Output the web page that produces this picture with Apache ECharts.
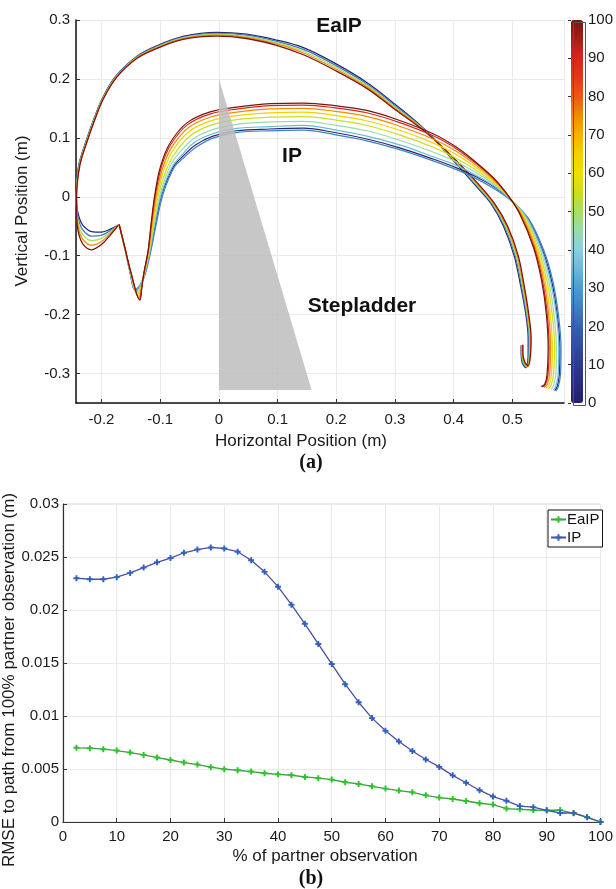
<!DOCTYPE html>
<html><head><meta charset="utf-8">
<script src="https://cdn.jsdelivr.net/npm/echarts@6/dist/echarts.min.js"></script>
<style>html,body{margin:0;padding:0;background:#fff}#c{width:616px;height:889px}</style>
</head><body><div id="c"></div>
<script>
// ---------- Panel (a): trajectories (x, y in metres), one array per observation percentage ----------
const EAIP_P2_5 = [[-0.170,-0.047],[-0.185,-0.055],[-0.200,-0.060],[-0.217,-0.059],[-0.232,-0.048],[-0.239,-0.032],[-0.2425,-0.012],[-0.243,0.010],[-0.239,0.053],[-0.227,0.0925],[-0.213,0.132],[-0.199,0.166],[-0.177,0.203],[-0.140,0.238],[-0.106,0.256],[-0.061,0.272],[-0.004,0.279],[0.047,0.276],[0.098,0.266],[0.144,0.253],[0.195,0.228],[0.252,0.194],[0.300,0.157],[0.352,0.113],[0.400,0.061],[0.440,0.016],[0.464,-0.012],[0.485,-0.050],[0.503,-0.100],[0.514,-0.150],[0.523,-0.200],[0.527,-0.240],[0.527,-0.268],[0.523,-0.290],[0.517,-0.282],[0.515,-0.266],[0.515,-0.252]];
const EAIP_P25 = [[-0.170,-0.047],[-0.185,-0.0575],[-0.200,-0.0653],[-0.217,-0.0668],[-0.232,-0.056],[-0.2393,-0.0385],[-0.2425,-0.0165],[-0.2429,0.0075],[-0.2385,0.053],[-0.2265,0.0925],[-0.2125,0.132],[-0.1985,0.166],[-0.1763,0.203],[-0.140,0.2371],[-0.106,0.2549],[-0.061,0.2708],[-0.004,0.2774],[0.047,0.2742],[0.098,0.2638],[0.144,0.250],[0.195,0.225],[0.252,0.1915],[0.300,0.1548],[0.352,0.1123],[0.400,0.0623],[0.440,0.018],[0.4655,-0.012],[0.4868,-0.050],[0.5048,-0.100],[0.5155,-0.150],[0.5243,-0.200],[0.5283,-0.240],[0.528,-0.268],[0.524,-0.2893],[0.518,-0.2815],[0.5158,-0.2658],[0.5158,-0.2518]];
const EAIP_P50 = [[-0.170,-0.047],[-0.185,-0.060],[-0.200,-0.0705],[-0.217,-0.0745],[-0.232,-0.064],[-0.2395,-0.045],[-0.2425,-0.021],[-0.2428,0.005],[-0.238,0.053],[-0.226,0.0925],[-0.212,0.132],[-0.198,0.166],[-0.1755,0.203],[-0.140,0.2363],[-0.106,0.2538],[-0.061,0.2695],[-0.004,0.2758],[0.047,0.2723],[0.098,0.2615],[0.144,0.247],[0.195,0.222],[0.252,0.189],[0.300,0.1525],[0.352,0.1115],[0.400,0.0635],[0.440,0.020],[0.467,-0.012],[0.4885,-0.050],[0.5065,-0.100],[0.517,-0.150],[0.5255,-0.200],[0.5295,-0.240],[0.529,-0.268],[0.525,-0.2885],[0.519,-0.281],[0.5165,-0.2655],[0.5165,-0.2515]];
const EAIP_P75 = [[-0.170,-0.047],[-0.185,-0.0625],[-0.200,-0.0758],[-0.217,-0.0823],[-0.232,-0.072],[-0.2398,-0.0515],[-0.2425,-0.0255],[-0.2426,0.0025],[-0.2375,0.053],[-0.2255,0.0925],[-0.2115,0.132],[-0.1975,0.166],[-0.1748,0.203],[-0.140,0.2354],[-0.106,0.2527],[-0.061,0.2683],[-0.004,0.2742],[0.047,0.2705],[0.098,0.2593],[0.144,0.244],[0.195,0.219],[0.252,0.1865],[0.300,0.1503],[0.352,0.1108],[0.400,0.0648],[0.440,0.022],[0.4685,-0.012],[0.4903,-0.050],[0.5083,-0.100],[0.5185,-0.150],[0.5268,-0.200],[0.5308,-0.240],[0.530,-0.268],[0.526,-0.2878],[0.520,-0.2805],[0.5173,-0.2653],[0.5173,-0.2513]];
const EAIP_P100 = [[-0.170,-0.047],[-0.185,-0.065],[-0.200,-0.081],[-0.217,-0.090],[-0.232,-0.080],[-0.240,-0.058],[-0.2425,-0.030],[-0.2425,0.000],[-0.237,0.053],[-0.225,0.0925],[-0.211,0.132],[-0.197,0.166],[-0.174,0.203],[-0.140,0.2345],[-0.106,0.2516],[-0.061,0.267],[-0.004,0.2726],[0.047,0.2686],[0.098,0.257],[0.144,0.241],[0.195,0.216],[0.252,0.184],[0.300,0.148],[0.352,0.110],[0.400,0.066],[0.440,0.024],[0.470,-0.012],[0.492,-0.050],[0.510,-0.100],[0.520,-0.150],[0.528,-0.200],[0.532,-0.240],[0.531,-0.268],[0.527,-0.287],[0.521,-0.280],[0.518,-0.265],[0.518,-0.251]];

const IP_P2_5 = [[-0.170,-0.047],[-0.161,-0.085],[-0.152,-0.125],[-0.143,-0.159],[-0.134,-0.150],[-0.126,-0.130],[-0.1165,-0.090],[-0.108,-0.045],[-0.097,0.005],[-0.078,0.050],[-0.062,0.068],[-0.040,0.088],[-0.010,0.103],[0.030,0.112],[0.087,0.115],[0.144,0.1164],[0.195,0.1095],[0.252,0.098],[0.308,0.083],[0.365,0.064],[0.405,0.049],[0.440,0.033],[0.470,0.016],[0.497,-0.005],[0.527,-0.038],[0.552,-0.092],[0.567,-0.143],[0.5765,-0.200],[0.581,-0.257],[0.580,-0.302],[0.5765,-0.322],[0.572,-0.329]];
const IP_P25 = [[-0.170,-0.047],[-0.161,-0.085],[-0.152,-0.125],[-0.143,-0.158],[-0.134,-0.149],[-0.125,-0.130],[-0.1155,-0.090],[-0.1065,-0.045],[-0.095,0.005],[-0.076,0.050],[-0.060,0.066],[-0.038,0.085],[-0.009,0.100],[0.030,0.109],[0.087,0.112],[0.144,0.113],[0.195,0.106],[0.252,0.095],[0.308,0.080],[0.365,0.061],[0.405,0.046],[0.440,0.030],[0.470,0.013],[0.498,-0.007],[0.529,-0.039],[0.554,-0.092],[0.569,-0.143],[0.5785,-0.200],[0.583,-0.257],[0.582,-0.302],[0.578,-0.323],[0.574,-0.330]];
const IP_P35 = [[-0.170,-0.047],[-0.161,-0.085],[-0.152,-0.125],[-0.142,-0.161],[-0.134,-0.150],[-0.126,-0.130],[-0.117,-0.090],[-0.109,-0.045],[-0.098,0.005],[-0.080,0.050],[-0.064,0.070],[-0.042,0.092],[-0.011,0.107],[0.030,0.116],[0.087,0.119],[0.144,0.121],[0.195,0.114],[0.252,0.103],[0.308,0.088],[0.365,0.068],[0.405,0.053],[0.440,0.0354],[0.470,0.0174],[0.4965,-0.0042],[0.5255,-0.037],[0.5504,-0.0914],[0.565,-0.143],[0.575,-0.200],[0.579,-0.257],[0.578,-0.302],[0.574,-0.322],[0.570,-0.328]];
const IP_P45 = [[-0.170,-0.047],[-0.161,-0.086],[-0.151,-0.126],[-0.141,-0.164],[-0.133,-0.151],[-0.127,-0.130],[-0.118,-0.090],[-0.110,-0.045],[-0.100,0.005],[-0.084,0.050],[-0.068,0.074],[-0.044,0.098],[-0.011,0.114],[0.030,0.123],[0.087,0.127],[0.144,0.128],[0.195,0.122],[0.252,0.112],[0.308,0.096],[0.365,0.076],[0.405,0.059],[0.440,0.0397],[0.470,0.0199],[0.4956,-0.0028],[0.5228,-0.0352],[0.5475,-0.0903],[0.562,-0.143],[0.571,-0.200],[0.575,-0.257],[0.574,-0.302],[0.570,-0.321],[0.566,-0.327]];
const IP_P55 = [[-0.170,-0.047],[-0.1605,-0.086],[-0.151,-0.126],[-0.139,-0.167],[-0.133,-0.151],[-0.127,-0.130],[-0.1185,-0.090],[-0.1115,-0.045],[-0.1026,0.005],[-0.088,0.050],[-0.072,0.078],[-0.047,0.105],[-0.012,0.122],[0.030,0.131],[0.087,0.135],[0.144,0.136],[0.195,0.131],[0.252,0.121],[0.308,0.105],[0.365,0.084],[0.405,0.065],[0.440,0.0443],[0.470,0.0226],[0.4947,-0.0012],[0.520,-0.0333],[0.5445,-0.0892],[0.559,-0.143],[0.568,-0.200],[0.572,-0.257],[0.570,-0.302],[0.566,-0.320],[0.561,-0.326]];
const IP_P65 = [[-0.170,-0.047],[-0.1604,-0.0863],[-0.1507,-0.1269],[-0.1376,-0.1696],[-0.1321,-0.1513],[-0.1273,-0.130],[-0.1191,-0.090],[-0.1128,-0.045],[-0.1047,0.005],[-0.0921,0.050],[-0.0761,0.0821],[-0.0496,0.1117],[-0.0132,0.1292],[0.030,0.1376],[0.087,0.1425],[0.144,0.1437],[0.195,0.1386],[0.252,0.129],[0.308,0.1128],[0.365,0.0915],[0.405,0.0714],[0.440,0.0484],[0.470,0.025],[0.4938,0.0001],[0.5174,-0.0316],[0.5418,-0.0882],[0.5561,-0.143],[0.5647,-0.200],[0.5682,-0.257],[0.5666,-0.302],[0.5627,-0.3194],[0.5573,-0.3245]];
const IP_P75 = [[-0.170,-0.047],[-0.1602,-0.0866],[-0.1504,-0.1274],[-0.1364,-0.172],[-0.1316,-0.1516],[-0.1276,-0.130],[-0.1197,-0.090],[-0.1139,-0.045],[-0.1065,0.005],[-0.0954,0.050],[-0.0794,0.0854],[-0.0519,0.1172],[-0.014,0.1354],[0.030,0.1436],[0.087,0.149],[0.144,0.1501],[0.195,0.1454],[0.252,0.1363],[0.308,0.1197],[0.365,0.098],[0.405,0.0767],[0.440,0.052],[0.470,0.0271],[0.4931,0.0013],[0.5152,-0.0301],[0.5394,-0.0873],[0.5536,-0.143],[0.5619,-0.200],[0.5652,-0.257],[0.5634,-0.302],[0.5595,-0.3188],[0.5538,-0.3235]];
const IP_P90 = [[-0.170,-0.047],[-0.1601,-0.0868],[-0.1502,-0.1278],[-0.1353,-0.1742],[-0.1312,-0.1518],[-0.1278,-0.130],[-0.1202,-0.090],[-0.1149,-0.045],[-0.108,0.005],[-0.0982,0.050],[-0.0822,0.0882],[-0.0538,0.122],[-0.0146,0.1407],[0.030,0.1488],[0.087,0.1546],[0.144,0.1556],[0.195,0.1514],[0.252,0.1426],[0.308,0.1258],[0.365,0.1036],[0.405,0.0812],[0.440,0.0551],[0.470,0.0289],[0.4924,0.0024],[0.5132,-0.0288],[0.5373,-0.0865],[0.5514,-0.143],[0.5595,-0.200],[0.5626,-0.257],[0.5607,-0.302],[0.5567,-0.3183],[0.5508,-0.3226]];
const IP_P100 = [[-0.170,-0.047],[-0.160,-0.087],[-0.150,-0.128],[-0.1346,-0.1755],[-0.131,-0.152],[-0.128,-0.130],[-0.1205,-0.090],[-0.1155,-0.045],[-0.109,0.005],[-0.100,0.050],[-0.084,0.090],[-0.055,0.125],[-0.015,0.144],[0.030,0.152],[0.087,0.158],[0.144,0.159],[0.195,0.155],[0.252,0.1465],[0.308,0.1295],[0.365,0.107],[0.405,0.084],[0.440,0.057],[0.470,0.030],[0.492,0.003],[0.512,-0.028],[0.536,-0.086],[0.550,-0.143],[0.558,-0.200],[0.561,-0.257],[0.559,-0.302],[0.555,-0.318],[0.549,-0.322]];

const EAIP_PCTS = [2.5, 25, 50, 75, 100];
const EAIP_PATHS = [EAIP_P2_5, EAIP_P25, EAIP_P50, EAIP_P75, EAIP_P100];
const IP_PCTS = [2.5, 25, 35, 45, 55, 65, 75, 90, 100];
const IP_PATHS = [IP_P2_5, IP_P25, IP_P35, IP_P45, IP_P55, IP_P65, IP_P75, IP_P90, IP_P100];

const STEPLADDER = [[0, 0.2], [0, -0.328], [0.158, -0.328]];

// ---------- Panel (b): RMSE vs % of partner observation ----------
const PCT = [2.5,5,7.5,10,12.5,15,17.5,20,22.5,25,27.5,30,32.5,35,37.5,40,42.5,45,47.5,50,52.5,55,57.5,60,62.5,65,67.5,70,72.5,75,77.5,80,82.5,85,87.5,90,92.5,95,97.5,100];
const RMSE_EAIP = [0.0070,0.00696,0.00687,0.00674,0.00655,0.00633,0.00608,0.00585,0.00561,0.00542,0.00517,0.00498,0.00488,0.00476,0.0046,0.0045,0.00441,0.00425,0.00413,0.0040,0.00375,0.00359,0.00337,0.00315,0.00296,0.0028,0.00252,0.0023,0.00217,0.00198,0.00177,0.00164,0.00127,0.0012,0.00113,0.0011,0.00113,0.00082,0.00047,0];
const RMSE_IP = [0.0230,0.0229,0.0229,0.0231,0.0235,0.0240,0.0245,0.0249,0.0254,0.0257,0.0259,0.0258,0.0255,0.0247,0.0236,0.0222,0.0205,0.0187,0.0168,0.0149,0.0130,0.0113,0.0098,0.0086,0.0076,0.0067,0.0059,0.0052,0.0044,0.0037,0.0030,0.0024,0.0020,0.0015,0.0014,0.0011,0.00085,0.00085,0.00044,0];

// ---------- styles ----------
const CMAP = ['#231f6b','#282c80','#2c3a93','#304ea3','#3562b3','#3f80c4','#4b9dd3','#6bb7dc','#8ccfe2','#98dcaa','#a8e060','#cddd1f','#eedf05','#f6d000','#f8b200','#f38a06','#ea5a10','#e13a18','#d4281c','#a91c16','#7c1510'];
function hx(h){return [parseInt(h.slice(1,3),16),parseInt(h.slice(3,5),16),parseInt(h.slice(5,7),16)];}
function pctColor(p){
  const t = p/5, i = Math.min(CMAP.length-2, Math.floor(t)), f = t - i;
  const a = hx(CMAP[i]), b = hx(CMAP[i+1]);
  return 'rgb(' + a.map((v,k)=>Math.round(v+(b[k]-v)*f)).join(',') + ')';
}
const FONT = '"Liberation Sans", Arial, Helvetica, sans-serif';
const SERIF = '"Liberation Serif", "Times New Roman", serif';
const PLUS = 'path://M3.4 0H6.6V3.4H10V6.6H6.6V10H3.4V6.6H0V3.4H3.4Z';

const chart = echarts.init(document.getElementById('c'), null, {renderer:'canvas'});

const series = [];
EAIP_PATHS.forEach((path, k) => {
  series.push({type:'line', name:'EaIP ' + EAIP_PCTS[k] + '%', xAxisIndex:0, yAxisIndex:0, data:path,
    showSymbol:false, smooth:0.35, silent:true, z:2,
    lineStyle:{color:pctColor(EAIP_PCTS[k]), width:1.3}});
});
IP_PATHS.forEach((path, k) => {
  series.push({type:'line', name:'IP ' + IP_PCTS[k] + '%', xAxisIndex:0, yAxisIndex:0, data:path,
    showSymbol:false, smooth:0.35, silent:true, z:2,
    lineStyle:{color:pctColor(IP_PCTS[k]), width:1.2}});
});
series.push({type:'custom', xAxisIndex:0, yAxisIndex:0, silent:true, z:5, data:[[0,0]],
  renderItem:(params, api) => ({type:'polygon', shape:{points:STEPLADDER.map(p => api.coord(p))},
    style:{fill:'#bdbdbd', opacity:0.85}})});
series.push({type:'scatter', name:'cbar', xAxisIndex:2, yAxisIndex:2, data:[], silent:true});
series.push({type:'line', name:'EaIP', xAxisIndex:1, yAxisIndex:1, data:PCT.map((p,i)=>[p,RMSE_EAIP[i]]),
  symbol:PLUS, symbolSize:6, showSymbol:true, z:3,
  lineStyle:{color:'#3d9e3d', width:1.3}, itemStyle:{color:'#2cc42c'}});
series.push({type:'line', name:'IP', xAxisIndex:1, yAxisIndex:1, data:PCT.map((p,i)=>[p,RMSE_IP[i]]),
  symbol:PLUS, symbolSize:6, showSymbol:true, z:3,
  lineStyle:{color:'#4c4f9c', width:1.3}, itemStyle:{color:'#2f62c2'}});
const cbarIndex = series.findIndex(s => s.name === 'cbar');

const axisText = {color:'#1a1a1a', fontFamily:FONT, fontSize:15};
const split = {show:true, lineStyle:{color:'#e9e9e9', width:1}};
const tick = {show:true, inside:true, length:4, lineStyle:{color:'#333'}};

const option = {
  animation:false,
  backgroundColor:'#fff',
  grid:[
    {left:76, top:20, width:488, height:383, containLabel:false},
    {left:63, top:504, width:539, height:318, show:true, borderColor:'#d6d6d6', borderWidth:1, containLabel:false},
    {left:571, top:20, width:12, height:383, containLabel:false}
  ],
  xAxis:[
    {gridIndex:0, type:'value', min:-0.2435, max:0.588, splitNumber:8,
      axisLine:{show:true, onZero:false, lineStyle:{color:'#111', width:1.5}}, axisTick:tick,
      axisLabel:Object.assign({margin:9, showMinLabel:false, showMaxLabel:false}, axisText), splitLine:split},
    {gridIndex:1, type:'value', min:0, max:100, interval:10,
      axisLine:{show:true, onZero:false, lineStyle:{color:'#333', width:1.2}}, axisTick:tick,
      axisLabel:Object.assign({margin:7}, axisText), splitLine:split},
    {gridIndex:2, type:'value', min:0, max:1, show:false}
  ],
  yAxis:[
    {gridIndex:0, type:'value', min:-0.35, max:0.3, splitNumber:7,
      axisLine:{show:true, onZero:false, lineStyle:{color:'#111', width:1.5}}, axisTick:tick,
      axisLabel:Object.assign({margin:6, showMinLabel:false}, axisText), splitLine:split},
    {gridIndex:1, type:'value', min:0, max:0.03, interval:0.005,
      axisLine:{show:true, onZero:false, lineStyle:{color:'#333', width:1.2}}, axisTick:tick,
      axisLabel:Object.assign({margin:4, formatter:v => String(+v.toFixed(4))}, axisText), splitLine:split},
    {gridIndex:2, type:'value', min:0, max:100, interval:10, position:'right',
      axisLine:{show:false}, axisTick:{show:true, inside:true, length:3, lineStyle:{color:'#333'}},
      axisLabel:Object.assign({margin:5}, axisText), splitLine:{show:false}}
  ],
  visualMap:{type:'continuous', min:0, max:100, seriesIndex:cbarIndex, dimension:1,
    left:571, top:20, itemWidth:12, itemHeight:383, padding:0, calculable:false, hoverLink:false,
    orient:'vertical', inRange:{color:CMAP}},
  legend:{data:['EaIP','IP'], orient:'vertical', left:548, top:510, padding:[2,3,2,2], itemGap:3,
    itemWidth:15, itemHeight:8, borderColor:'#111', borderWidth:1, backgroundColor:'#fff',
    textStyle:{fontFamily:FONT, fontSize:15, color:'#111', padding:[0,0,0,-4]}},
  graphic:[
    {type:'rect', left:571, top:20, shape:{width:12, height:383}, style:{fill:'none', stroke:'#555', lineWidth:1}, z:100},
    {type:'text', x:339, y:26, style:{text:'EaIP', font:'bold 21px ' + FONT, fill:'#111', align:'center', verticalAlign:'middle'}, z:100},
    {type:'text', x:292, y:156, style:{text:'IP', font:'bold 21px ' + FONT, fill:'#111', align:'center', verticalAlign:'middle'}, z:100},
    {type:'text', x:362, y:306, style:{text:'Stepladder', font:'bold 21px ' + FONT, fill:'#111', align:'center', verticalAlign:'middle'}, z:100},
    {type:'text', x:301, y:441, style:{text:'Horizontal Position (m)', font:'17px ' + FONT, fill:'#1a1a1a', align:'center', verticalAlign:'middle'}, z:100},
    {type:'text', x:22, y:211, rotation:Math.PI/2, style:{text:'Vertical Position (m)', font:'17px ' + FONT, fill:'#1a1a1a', align:'center', verticalAlign:'middle'}, z:100},
    {type:'text', x:311, y:463, style:{text:'(a)', font:'bold 20px ' + SERIF, fill:'#111', align:'center', verticalAlign:'middle'}, z:100},
    {type:'text', x:325, y:856, style:{text:'% of partner observation', font:'17px ' + FONT, fill:'#1a1a1a', align:'center', verticalAlign:'middle'}, z:100},
    {type:'text', x:9, y:680, rotation:Math.PI/2, style:{text:'RMSE to path from 100% partner observation (m)', font:'17px ' + FONT, fill:'#1a1a1a', align:'center', verticalAlign:'middle'}, z:100},
    {type:'text', x:311, y:879, style:{text:'(b)', font:'bold 20px ' + SERIF, fill:'#111', align:'center', verticalAlign:'middle'}, z:100}
  ],
  series:series
};
chart.setOption(option);
</script></body></html>
